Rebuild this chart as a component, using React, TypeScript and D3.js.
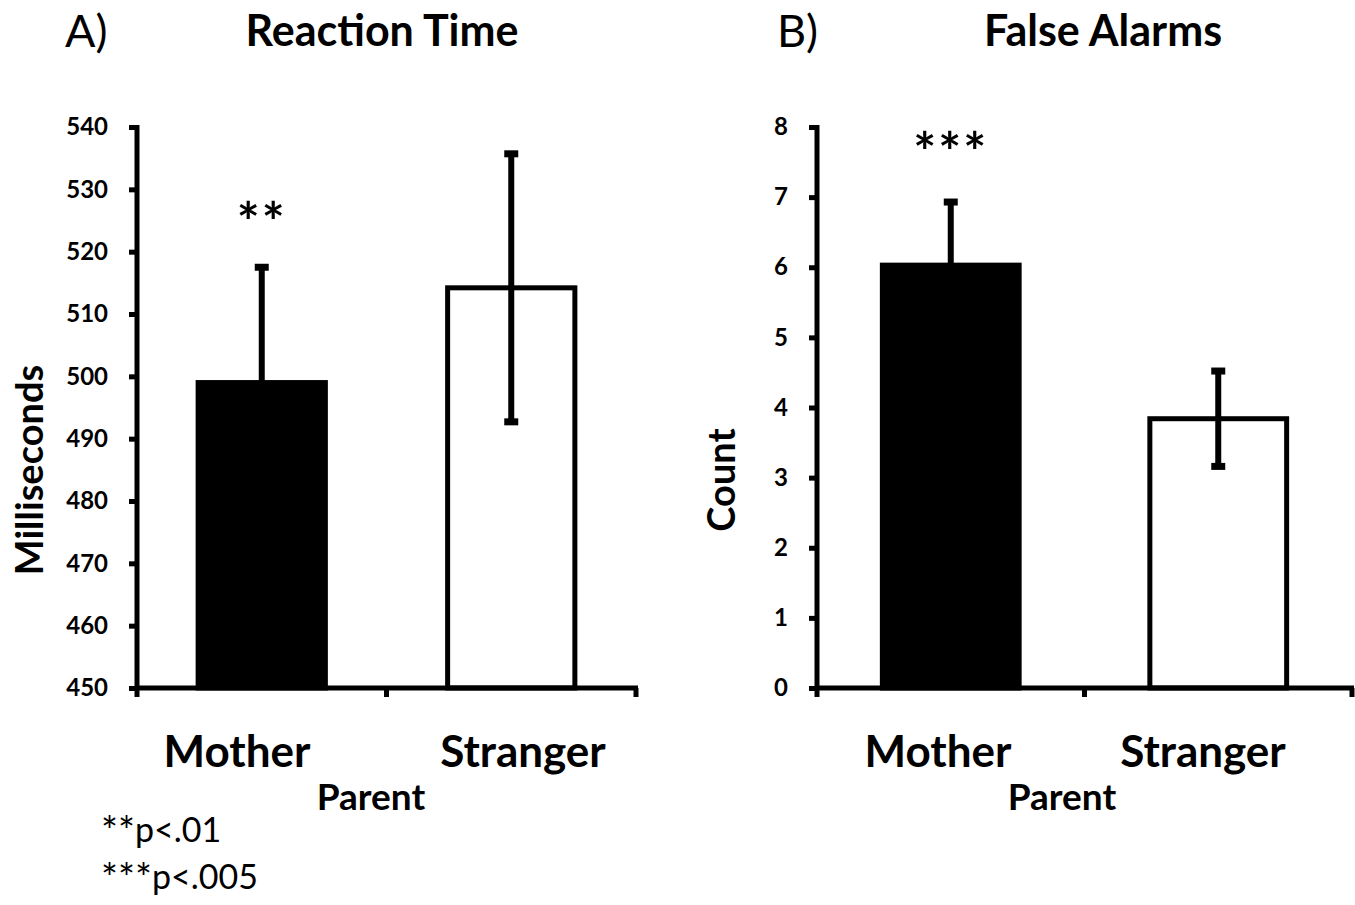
import React, { useEffect, useRef } from "react";
import * as d3 from "d3";

// chart data
const categories = ["Mother", "Stranger"];
const rtMeans = [499.0, 514.2];
const rtErrors = [18.5, 21.5];
const faMeans = [6.03, 3.84];
const faErrors = [0.9, 0.68];
const rtTicks = [450, 460, 470, 480, 490, 500, 510, 520, 530, 540];
const faTicks = [0, 1, 2, 3, 4, 5, 6, 7, 8];
const barFills = ["#000", "#fff"];

const FONT = "Lato, 'Open Sans', sans-serif";

interface PanelCfg {
  letter: string;
  title: string;
  yLabel: string;
  means: number[];
  errors: number[];
  ticks: number[];
  domain: [number, number];
  left: number;
  right: number;
  stars: string;
  letterX: number;
  titleX: number;
  yLabelX: number;
  yLabelY: number;
  catLabelX: number[];
  parentX: number;
  starsY: number;
}

const panels: PanelCfg[] = [
  {
    letter: "A)",
    title: "Reaction Time",
    yLabel: "Milliseconds",
    means: rtMeans,
    errors: rtErrors,
    ticks: rtTicks,
    domain: [450, 540],
    left: 137,
    right: 636,
    stars: "**",
    letterX: 65,
    titleX: 382,
    yLabelX: 30,
    yLabelY: 470,
    catLabelX: [237, 523],
    parentX: 371,
    starsY: 241,
  },
  {
    letter: "B)",
    title: "False Alarms",
    yLabel: "Count",
    means: faMeans,
    errors: faErrors,
    ticks: faTicks,
    domain: [0, 8],
    left: 817,
    right: 1352,
    stars: "***",
    letterX: 777,
    titleX: 1103,
    yLabelX: 722,
    yLabelY: 480,
    catLabelX: [938, 1203],
    parentX: 1062,
    starsY: 171,
  },
];

const App: React.FC = () => {
  const svgRef = useRef<SVGSVGElement | null>(null);

  useEffect(() => {
    const width = 1355;
    const height = 905;
    const top = 127;
    const bottom = 688;

    const svg = d3
      .select(svgRef.current)
      .attr("width", width)
      .attr("height", height)
      .attr("viewBox", [0, 0, width, height].join(" "));
    svg.selectAll("*").remove();

    svg.append("rect").attr("width", width).attr("height", height).attr("fill", "#fff");

    panels.forEach((p) => {
      const g = svg.append("g");

      const y = d3.scaleLinear().domain(p.domain).range([bottom, top]);
      const x = d3
        .scaleBand()
        .domain(categories)
        .range([p.left, p.right])
        .paddingInner(0.47)
        .paddingOuter(0.235);

      // bars
      g.selectAll(".bar")
        .data(p.means)
        .enter()
        .append("rect")
        .attr("x", (_, i) => (x(categories[i]) as number) + 2.5)
        .attr("y", (d) => y(d))
        .attr("width", x.bandwidth() - 5)
        .attr("height", (d) => y(p.domain[0]) - y(d))
        .attr("fill", (_, i) => barFills[i])
        .attr("stroke", "#000")
        .attr("stroke-width", 5);

      // error bars (black bar only shows the upper half)
      const eb = g
        .selectAll(".err")
        .data(p.means)
        .enter()
        .append("g");
      eb.append("line")
        .attr("x1", (_, i) => (x(categories[i]) as number) + x.bandwidth() / 2)
        .attr("x2", (_, i) => (x(categories[i]) as number) + x.bandwidth() / 2)
        .attr("y1", (d, i) => y(i === 0 ? d : d - p.errors[i]))
        .attr("y2", (d, i) => y(d + p.errors[i]))
        .attr("stroke", "#000")
        .attr("stroke-width", 6);
      eb.each(function (d, i) {
        const cx = (x(categories[i]) as number) + x.bandwidth() / 2;
        const caps = i === 0 ? [d + p.errors[i]] : [d + p.errors[i], d - p.errors[i]];
        caps.forEach((v) => {
          d3.select(this)
            .append("line")
            .attr("x1", cx - 7)
            .attr("x2", cx + 7)
            .attr("y1", y(v))
            .attr("y2", y(v))
            .attr("stroke", "#000")
            .attr("stroke-width", 7);
        });
      });

      // y axis
      const gy = g
        .append("g")
        .attr("transform", `translate(${p.left},0)`)
        .call(d3.axisLeft(y).tickValues(p.ticks).tickSize(8).tickSizeOuter(0).tickPadding(21));
      gy.select(".domain").attr("stroke-width", 5).attr("d", `M0,${top - 2}V${bottom + 2}`);
      gy.selectAll(".tick line").attr("stroke-width", 5);
      gy.selectAll(".tick text")
        .attr("font-family", FONT)
        .attr("font-weight", "bold")
        .attr("font-size", 24)
        .attr("fill", "#000");

      // x axis
      const step = x.step();
      const bounds = [p.left, ...categories.map((c) => (x(c) as number) + x.bandwidth() + (step - x.bandwidth()) / 2)];
      g.append("line")
        .attr("x1", p.left - 2)
        .attr("x2", p.right + 2)
        .attr("y1", bottom)
        .attr("y2", bottom)
        .attr("stroke", "#000")
        .attr("stroke-width", 5);
      g.selectAll(".xtick")
        .data(bounds)
        .enter()
        .append("line")
        .attr("x1", (d) => d)
        .attr("x2", (d) => d)
        .attr("y1", bottom)
        .attr("y2", bottom + 9)
        .attr("stroke", "#000")
        .attr("stroke-width", 5);

      // category labels
      g.selectAll(".cat")
        .data(categories)
        .enter()
        .append("text")
        .attr("x", (_, i) => p.catLabelX[i])
        .attr("y", 767)
        .attr("text-anchor", "middle")
        .attr("font-family", FONT)
        .attr("font-weight", "bold")
        .attr("font-size", 44)
        .text((d) => d);

      g.append("text")
        .attr("x", p.parentX)
        .attr("y", 810)
        .attr("text-anchor", "middle")
        .attr("font-family", FONT)
        .attr("font-weight", "bold")
        .attr("font-size", 37)
        .text("Parent");

      // y label
      g.append("text")
        .attr("transform", `translate(${p.yLabelX + 13},${p.yLabelY}) rotate(-90)`)
        .attr("text-anchor", "middle")
        .attr("font-family", FONT)
        .attr("font-weight", "bold")
        .attr("font-size", 38)
        .text(p.yLabel);

      // titles
      g.append("text")
        .attr("x", p.letterX)
        .attr("y", 47)
        .attr("font-family", FONT)
        .attr("font-size", 45)
        .text(p.letter);
      g.append("text")
        .attr("x", p.titleX)
        .attr("y", 46)
        .attr("text-anchor", "middle")
        .attr("font-family", FONT)
        .attr("font-weight", "bold")
        .attr("font-size", 43)
        .text(p.title);

      // significance stars
      g.append("text")
        .attr("x", (x(categories[0]) as number) + x.bandwidth() / 2)
        .attr("y", p.starsY)
        .attr("text-anchor", "middle")
        .attr("font-family", FONT)
        .attr("font-weight", "bold")
        .attr("font-size", 54)
        .attr("letter-spacing", 2)
        .text(p.stars);
    });

    // footnotes
    const notes = [
      ["**", "p<.01"],
      ["***", "p<.005"],
    ];
    const nt = svg
      .selectAll(".note")
      .data(notes)
      .enter()
      .append("text")
      .attr("x", 101)
      .attr("y", (_, i) => 842 + i * 47)
      .attr("font-family", FONT);
    nt.append("tspan")
      .attr("font-size", 40)
      .attr("dy", 4)
      .text((d) => d[0]);
    nt.append("tspan")
      .attr("font-size", 34)
      .attr("dy", -4)
      .text((d) => d[1]);
  }, []);

  return (
    <div style={{ position: "absolute", left: 0, top: 0 }}>
      <svg ref={svgRef}></svg>
    </div>
  );
};

export default App;
